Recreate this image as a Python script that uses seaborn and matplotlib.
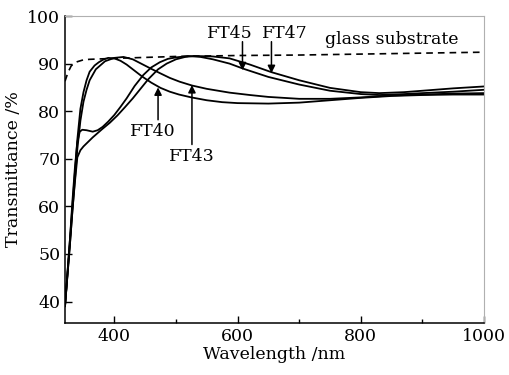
import pandas as pd
import matplotlib.pyplot as plt
import seaborn as sns
from matplotlib.ticker import MultipleLocator

# values
wl_glass = [320, 325, 330, 335, 340, 350, 360, 380, 400, 450, 500, 550, 600,
            700, 800, 900, 1000]
t_glass = [86.3, 88.2, 89.5, 90.1, 90.4, 90.8, 90.9, 91.0, 91.1, 91.3, 91.5,
           91.6, 91.7, 91.8, 92.0, 92.2, 92.4]

wl_ft40 = [320, 324, 328, 332, 336, 340, 345, 350, 355, 360, 368, 375, 383, 390,
           400, 410, 420, 430, 445, 460, 475, 490, 505, 525, 550, 575, 600, 650,
           700, 750, 800, 850, 900, 950, 1000]
t_ft40 = [39, 46, 53, 60, 67, 74, 80.5, 84, 86.5, 88.3, 89.6, 90.3, 90.9, 91.2,
          91.1, 90.6, 89.8, 88.8, 87.3, 86.0, 84.9, 84.1, 83.5, 82.9, 82.3, 81.9,
          81.7, 81.6, 81.8, 82.3, 82.8, 83.2, 83.4, 83.5, 83.5]

wl_ft43 = [320, 324, 328, 332, 336, 340, 345, 350, 355, 360, 370, 385, 400, 415,
           430, 445, 460, 474, 490, 506, 526, 550, 587, 620, 650, 700, 750, 800,
           850, 900, 950, 1000]
t_ft43 = [39, 45.5, 52, 59, 65.5, 72, 78, 82, 84.5, 86.5, 88.8, 90.5, 91.2, 91.4,
          90.9, 89.9, 88.9, 88.0, 87.0, 86.2, 85.4, 84.7, 83.9, 83.4, 83.0, 82.6,
          82.6, 82.9, 83.3, 83.5, 83.7, 83.8]

wl_ft45 = [320, 324, 328, 332, 336, 340, 344, 348, 355, 365, 373, 381, 390, 400,
           410, 420, 433, 447, 460, 474, 487, 500, 520, 540, 560, 587, 610, 650,
           700, 750, 800, 830, 870, 900, 950, 1000]
t_ft45 = [39, 46, 53, 61, 68, 73.5, 75.7, 76.1, 76.0, 75.7, 76.0, 76.7, 77.8,
          79.2, 80.9, 82.7, 85.3, 87.6, 89.2, 90.3, 91.0, 91.3, 91.6, 91.4, 90.9,
          90.0, 88.9, 87.2, 85.6, 84.3, 83.6, 83.4, 83.6, 83.8, 84.1, 84.5]

wl_ft47 = [320, 324, 328, 332, 336, 340, 345, 350, 365, 380, 393, 405, 417, 430,
           440, 455, 471, 485, 500, 515, 530, 560, 587, 620, 655, 700, 750, 800,
           830, 870, 900, 950, 1000]
t_ft47 = [39, 45.5, 52, 59, 65, 70.3, 71.8, 72.6, 74.5, 76.2, 77.6, 79.1, 80.8,
          82.7, 84.3, 86.7, 88.8, 90.0, 90.9, 91.4, 91.6, 91.5, 91.1, 89.8, 88.2,
          86.5, 84.9, 84.0, 83.8, 84.0, 84.3, 84.8, 85.2]

series = {"FT40": (wl_ft40, t_ft40), "FT43": (wl_ft43, t_ft43),
          "FT45": (wl_ft45, t_ft45), "FT47": (wl_ft47, t_ft47)}

sns.set_theme(style="ticks")
plt.rcParams["font.family"] = ["DejaVu Serif"]
plt.rcParams["mathtext.fontset"] = "dejavuserif"
plt.rcParams["text.color"] = "black"
plt.rcParams["axes.labelcolor"] = "black"

fig = plt.figure(figsize=(5.09, 3.75), dpi=100)
ax = fig.add_axes([0.1277, 0.1387, 0.8233, 0.8186])

for name, (wl, t) in series.items():
    df = pd.DataFrame({"wl": wl, "T": t})
    sns.lineplot(data=df, x="wl", y="T", ax=ax, color="black", lw=1.3,
                 sort=False, estimator=None)

gdf = pd.DataFrame({"wl": wl_glass, "T": t_glass})
sns.lineplot(data=gdf, x="wl", y="T", ax=ax, color="black", lw=1.2,
             dashes=False, estimator=None)
ax.lines[-1].set_dashes((4, 3))

ax.set_xlim(320, 1000)
ax.set_ylim(35.5, 100)
ax.xaxis.set_minor_locator(MultipleLocator(100))
ax.yaxis.set_major_locator(MultipleLocator(10))
ax.set_xticks([400, 600, 800, 1000])
ax.tick_params(which="both", direction="in", top=False, right=False,
               labelsize=12.5, colors="black", width=1)
ax.tick_params(which="major", length=5)
ax.tick_params(which="minor", length=3)
ax.set_xlabel("Wavelength /nm", fontsize=12.5, labelpad=1)
ax.set_ylabel("Transmittance /%", fontsize=12.5, labelpad=4)

for side in ["left", "bottom"]:
    ax.spines[side].set_color("black")
    ax.spines[side].set_linewidth(1.1)
for side in ["top", "right"]:
    ax.spines[side].set_color("#b0b0b0")
    ax.spines[side].set_linewidth(0.8)

# labels and arrows
ax.text(850, 95.0, "glass substrate", ha="center", va="center", fontsize=12.5)
ax.text(587, 96.4, "FT45", ha="center", va="center", fontsize=12.5)
ax.text(676, 96.4, "FT47", ha="center", va="center", fontsize=12.5)
ax.text(462, 75.7, "FT40", ha="center", va="center", fontsize=12.5)
ax.text(526, 70.4, "FT43", ha="center", va="center", fontsize=12.5)

arrow = dict(arrowstyle="-|>", color="black", lw=1.1, mutation_scale=11,
             shrinkA=0, shrinkB=0)
ax.annotate("", xy=(608, 88.6), xytext=(608, 94.6), arrowprops=arrow)
ax.annotate("", xy=(655, 88.0), xytext=(655, 94.6), arrowprops=arrow)
ax.annotate("", xy=(471, 85.0), xytext=(471, 78.2), arrowprops=arrow)
ax.annotate("", xy=(526, 85.5), xytext=(526, 73.0), arrowprops=arrow)

fig.savefig("out.png", dpi=100)
